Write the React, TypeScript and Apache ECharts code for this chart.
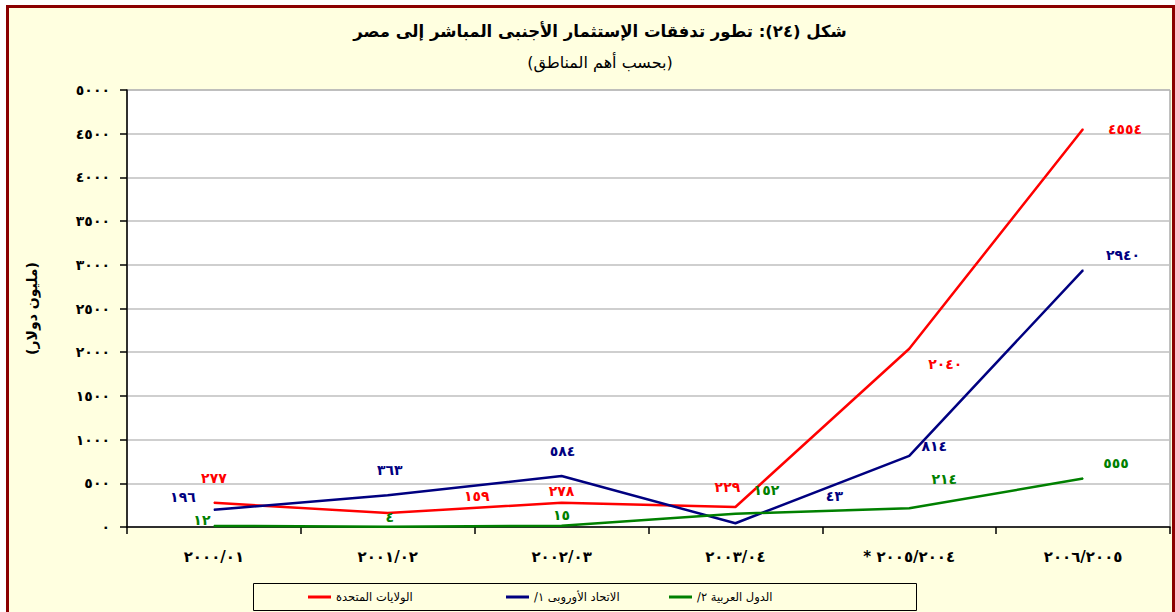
import React, { useEffect, useRef } from "react";
import * as echarts from "echarts";

// ---------- data ----------
const categories = [
  "٢٠٠٠/٠١",
  "٢٠٠١/٠٢",
  "٢٠٠٢/٠٣",
  "٢٠٠٣/٠٤",
  "* ٢٠٠٥/٢٠٠٤",
  "٢٠٠٦/٢٠٠٥",
];
const usValues = [277, 159, 278, 229, 2040, 4554];
const euValues = [196, 363, 584, 43, 814, 2940];
const arabValues = [12, 4, 15, 152, 214, 555];
const seriesNames = ["الولايات المتحدة", "الاتحاد الأوروبى ١/", "الدول العربية ٢/"];
const seriesColors = ["#FF0000", "#000080", "#008000"];
const titleText = "شكل (٢٤): تطور تدفقات الإستثمار الأجنبى المباشر إلى مصر";
const subtitleText = "(بحسب أهم المناطق)";
const yAxisName = "(مليون دولار)";
const yMin = 0;
const yMax = 5000;
const yInterval = 500;

// label offsets (layout only)
const usOffsets = [[0, -25], [89, -17], [0, -12], [-8, -20], [36, 15], [42, 0]];
const euOffsets = [[-31, -13], [2, -25], [1, -25], [99, -27], [25, -10], [40, -15]];
const arabOffsets = [[-12, -6], [2, -10], [0, -11], [31, -24], [35, -29], [33, -15]];
const legendLefts = [308, 506, 669];

const RLE = "\u202B";
const PDF = "\u202C";
const AR_DIGITS = "٠١٢٣٤٥٦٧٨٩";
const toArabic = (v: number | string) =>
  String(v).replace(/[0-9]/g, (d) => AR_DIGITS[Number(d)]);

const FONT = "DejaVu Sans";

function makeSeries(name: string, values: number[], color: string, offsets: number[][]) {
  return {
    type: "line",
    name,
    data: values.map((v, i) => ({ value: v, label: { offset: offsets[i] } })),
    symbol: "circle",
    symbolSize: 1,
    showSymbol: true,
    lineStyle: { color, width: 2.5 },
    itemStyle: { color },
    label: {
      show: true,
      position: "inside",
      color,
      fontWeight: "bold",
      fontSize: 14,
      fontFamily: FONT,
      formatter: (p: any) => toArabic(p.value),
    },
  };
}

export default function App() {
  const ref = useRef<HTMLDivElement>(null);
  useEffect(() => {
    if (!ref.current) return;
    const chart = echarts.init(ref.current, undefined, { renderer: "svg" });
    const option: any = {
      animation: false,
      backgroundColor: "transparent",
      title: [
        {
          text: RLE + titleText + PDF,
          left: 600,
          top: 23,
          textAlign: "center",
          padding: 0,
          textStyle: { fontFamily: FONT, fontSize: 16.5, fontWeight: "bold", color: "#000" },
        },
        {
          text: RLE + subtitleText + PDF,
          left: 600,
          top: 54,
          textAlign: "center",
          padding: 0,
          textStyle: { fontFamily: FONT, fontSize: 16, fontWeight: "normal", color: "#000" },
        },
      ],
      grid: {
        left: 127,
        right: 5,
        top: 90,
        bottom: 85,
        show: true,
        backgroundColor: "#FFFFFF",
        borderColor: "#808080",
        borderWidth: 1,
      },
      legend: seriesNames.map((n, i) => ({
        data: [n],
        left: legendLefts[i],
        top: 591,
        icon: "rect",
        itemWidth: 23,
        itemHeight: 3,
        padding: 0,
        selectedMode: false,
        formatter: (nm: string) => RLE + nm + PDF,
        textStyle: { fontFamily: FONT, fontSize: 11.5, color: "#000" },
      })),
      xAxis: {
        type: "category",
        data: categories,
        boundaryGap: true,
        axisLine: { lineStyle: { color: "#000", width: 1.5 } },
        axisTick: { show: true, inside: false, length: 7, lineStyle: { color: "#000", width: 1.5 } },
        axisLabel: {
          margin: 22,
          color: "#000",
          fontFamily: FONT,
          fontSize: 15,
          fontWeight: "bold",
        },
        splitLine: { show: false },
      },
      yAxis: {
        type: "value",
        min: yMin,
        max: yMax,
        interval: yInterval,
        name: RLE + yAxisName + PDF,
        nameLocation: "middle",
        nameRotate: 90,
        nameGap: 88,
        nameTextStyle: { fontFamily: FONT, fontSize: 14, fontWeight: "bold", color: "#000" },
        axisLine: { show: true, lineStyle: { color: "#000", width: 1.5 } },
        axisTick: { show: true, inside: false, length: 7, lineStyle: { color: "#000", width: 1.5 } },
        axisLabel: {
          margin: 17,
          color: "#000",
          fontFamily: FONT,
          fontSize: 14,
          fontWeight: "bold",
          formatter: (v: number) => toArabic(v),
        },
        splitLine: { show: true, lineStyle: { color: "#BFBFBF", width: 1.5 } },
      },
      graphic: [
        {
          type: "rect",
          shape: { x: 253.5, y: 583.5, width: 663, height: 27 },
          style: { fill: "none", stroke: "#000", lineWidth: 1 },
          silent: true,
        },
      ],
      series: [
        makeSeries(seriesNames[0], usValues, seriesColors[0], usOffsets),
        makeSeries(seriesNames[1], euValues, seriesColors[1], euOffsets),
        makeSeries(seriesNames[2], arabValues, seriesColors[2], arabOffsets),
      ],
    };
    chart.setOption(option);
    return () => chart.dispose();
  }, []);

  return (
    <div
      style={{
        position: "fixed",
        left: 0,
        top: 0,
        width: 1175,
        height: 612,
        background: "#FFFFFF",
        overflow: "hidden",
      }}
    >
      <div
        style={{
          position: "absolute",
          left: 6,
          top: 5,
          width: 1163,
          height: 620,
          border: "3px solid #8B0000",
          background: "#FFFFE0",
        }}
      />
      <div
        ref={ref}
        style={{ position: "absolute", left: 0, top: 0, width: 1175, height: 612 }}
      />
    </div>
  );
}
